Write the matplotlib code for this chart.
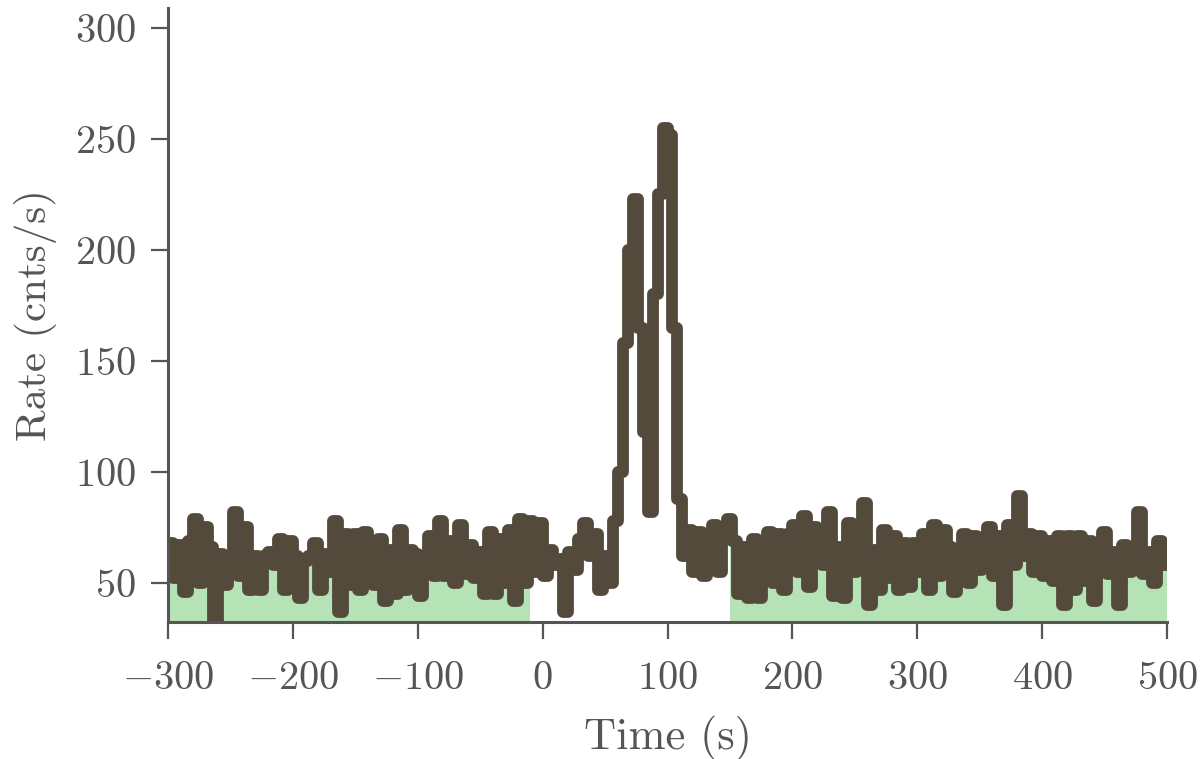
import numpy as np
import matplotlib
matplotlib.use("Agg")
import matplotlib.pyplot as plt

# light curve, 4 s bins starting at -300 s
bin_width = 4.0
t_start = -300.0
rates = [
    68, 52, 67, 46, 69,   79, 50, 75, 66, 33,   63, 49, 62, 82, 53,   75, 47, 62, 47, 62,
    64, 58, 70, 47, 69,   62, 43, 60, 62, 68,   47, 63, 55, 78, 37,   72, 49, 72, 47, 73,
    63, 49, 70, 42, 65,   45, 74, 47, 65, 63,   44, 58, 71, 53, 78,   53, 69, 50, 76, 54,
    67, 52, 64, 45, 73,   45, 70, 50, 74, 42,   79, 50, 78, 55, 77,   53, 65, 58, 61, 37,
    64, 56, 70, 77, 62,   72, 47, 62, 50, 78,   100, 158, 200, 223, 165,   118, 82, 180, 225, 255,
    252, 165, 88, 62, 74,   55, 73, 53, 70, 76,   55, 70, 79, 69, 45,   66, 43, 70, 43, 68,
    73, 50, 72, 47, 72,   76, 55, 80, 48, 75,   72, 58, 82, 44, 66,   43, 77, 55, 65, 86,
    40, 65, 47, 74, 52,   71, 47, 68, 48, 68,   55, 72, 47, 76, 53,   74, 66, 46, 62, 72,
    50, 71, 56, 69, 75,   53, 71, 40, 76, 58,   89, 62, 72, 55, 71,   53, 69, 51, 71, 40,
    71, 47, 71, 51, 69,   42, 66, 73, 54, 64,   40, 67, 55, 65, 82,   54, 64, 50, 69, 58,
]
# intervals used for the background fit
bkg_intervals = [(-300, -10), (150, 500)]

line_color = "#534a3c"
fill_color = "#b6e3b6"
text_color = "#555555"

plt.rcParams["font.family"] = "serif"
plt.rcParams["font.serif"] = ["cmr10"]
plt.rcParams["mathtext.fontset"] = "cm"
plt.rcParams["axes.formatter.use_mathtext"] = True
plt.rcParams["axes.unicode_minus"] = True
plt.rcParams["font.size"] = 29

rates = np.array(rates, dtype=float)
edges = t_start + bin_width * np.arange(len(rates) + 1)

# step curve (post) through all edges
xs = np.repeat(edges, 2)[1:-1]
ys = np.repeat(rates, 2)

fig = plt.figure(figsize=(12, 7.59), dpi=100)
ax = fig.add_axes([0.14, 0.1805, 0.8325, 0.809])

for lo, hi in bkg_intervals:
    xc = np.clip(xs, lo, hi)
    ax.fill_between(xc, 0, ys, color=fill_color, linewidth=0, zorder=1)

ax.plot(xs, ys, color=line_color, lw=8.5, solid_joinstyle="round",
        solid_capstyle="round", zorder=2)

ax.set_xlim(-300, 500)
ax.set_ylim(32.4, 309)
ax.set_xticks([-300, -200, -100, 0, 100, 200, 300, 400, 500])
ax.set_yticks([50, 100, 150, 200, 250, 300])

ax.set_xlabel("Time (s)", color=text_color, fontsize=32, labelpad=14)
ax.set_ylabel("Rate (cnts/s)", color=text_color, fontsize=31, labelpad=13)

for side in ["top", "right"]:
    ax.spines[side].set_visible(False)
for side in ["left", "bottom"]:
    ax.spines[side].set_color(text_color)
    ax.spines[side].set_linewidth(2.2)
ax.tick_params(direction="out", length=12, width=1.6, color=text_color,
               labelcolor=text_color)
ax.tick_params(axis="x", pad=16)
ax.tick_params(axis="y", pad=11)

fig.savefig("out.png", dpi=100)
